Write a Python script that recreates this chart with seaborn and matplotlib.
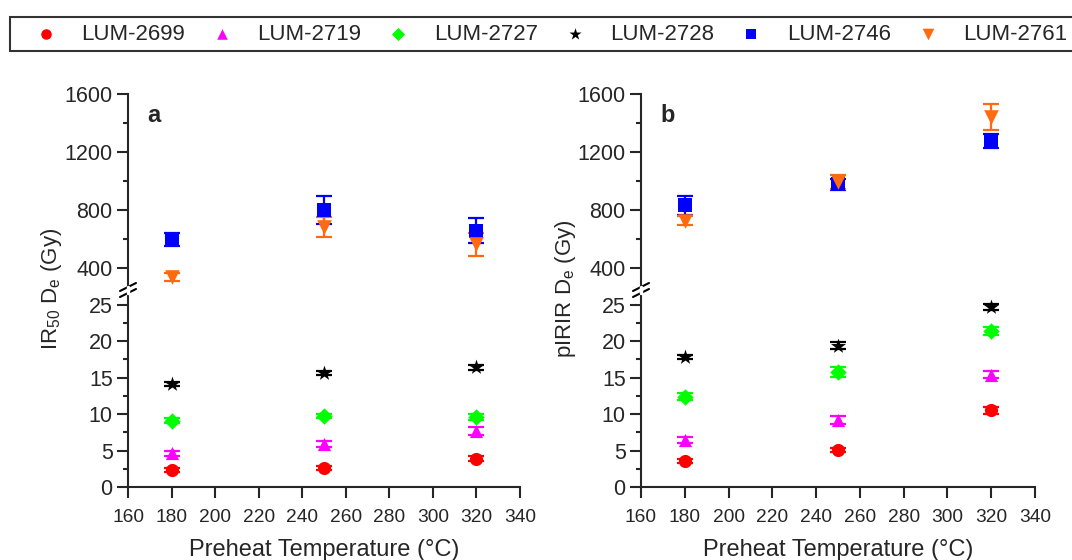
import numpy as np
import pandas as pd
import matplotlib
matplotlib.use("Agg")
import matplotlib.pyplot as plt
from matplotlib.lines import Line2D
from matplotlib.ticker import MultipleLocator, FixedLocator
import seaborn as sns

# ---------------- data ----------------
samples = ["LUM-2699", "LUM-2719", "LUM-2727", "LUM-2728", "LUM-2746", "LUM-2761"]
temps = [180, 250, 320]

# IR50 De (Gy) and errors
ir50_2699 = [2.3, 2.6, 3.9]
ir50_2719 = [4.6, 5.9, 7.7]
ir50_2727 = [9.1, 9.7, 9.6]
ir50_2728 = [14.1, 15.6, 16.4]
ir50_2746 = [595, 800, 655]
ir50_2761 = [337, 680, 562]
ir50_err_2699 = [0.3, 0.3, 0.3]
ir50_err_2719 = [0.4, 0.4, 0.5]
ir50_err_2727 = [0.3, 0.3, 0.4]
ir50_err_2728 = [0.3, 0.3, 0.3]
ir50_err_2746 = [45, 97, 85]
ir50_err_2761 = [27, 72, 80]

# pIRIR De (Gy) and errors
pirir_2699 = [3.6, 5.1, 10.5]
pirir_2719 = [6.5, 9.2, 15.4]
pirir_2727 = [12.4, 15.8, 21.4]
pirir_2728 = [17.8, 19.4, 24.7]
pirir_2746 = [830, 975, 1275]
pirir_2761 = [725, 990, 1440]
pirir_err_2699 = [0.3, 0.3, 0.5]
pirir_err_2719 = [0.4, 0.5, 0.5]
pirir_err_2727 = [0.5, 0.7, 0.6]
pirir_err_2728 = [0.3, 0.5, 0.4]
pirir_err_2746 = [65, 40, 50]
pirir_err_2761 = [32, 50, 92]

colors = {"LUM-2699": "#FF0000", "LUM-2719": "#FF00FF", "LUM-2727": "#00FF00",
          "LUM-2728": "#000000", "LUM-2746": "#0000FF", "LUM-2761": "#FF6A10"}
markers = {"LUM-2699": "o", "LUM-2719": "^", "LUM-2727": "D",
           "LUM-2728": "*", "LUM-2746": "s", "LUM-2761": "v"}
msizes = {"LUM-2699": 90, "LUM-2719": 90, "LUM-2727": 70,
          "LUM-2728": 130, "LUM-2746": 95, "LUM-2761": 110}

ir50_vals = [ir50_2699, ir50_2719, ir50_2727, ir50_2728, ir50_2746, ir50_2761]
ir50_errs = [ir50_err_2699, ir50_err_2719, ir50_err_2727, ir50_err_2728, ir50_err_2746, ir50_err_2761]
pirir_vals = [pirir_2699, pirir_2719, pirir_2727, pirir_2728, pirir_2746, pirir_2761]
pirir_errs = [pirir_err_2699, pirir_err_2719, pirir_err_2727, pirir_err_2728, pirir_err_2746, pirir_err_2761]

def make_df(vals, errs):
    rows = []
    for s, v, e in zip(samples, vals, errs):
        for t, vv, ee in zip(temps, v, e):
            rows.append({"Sample": s, "T": t, "De": vv, "err": ee})
    return pd.DataFrame(rows)

df_a = make_df(ir50_vals, ir50_errs)
df_b = make_df(pirir_vals, pirir_errs)

# ---------------- style ----------------
sns.set_theme(style="ticks")
plt.rcParams["font.family"] = ["Liberation Sans", "DejaVu Sans"]
plt.rcParams["axes.linewidth"] = 1.5
plt.rcParams["mathtext.fontset"] = "custom"
plt.rcParams["mathtext.rm"] = "Liberation Sans"
plt.rcParams["mathtext.it"] = "Liberation Sans"

W, H = 1072, 560
fig = plt.figure(figsize=(W / 100, H / 100), dpi=100)

def px(x0, y0, x1, y1):
    return [x0 / W, 1 - y1 / H, (x1 - x0) / W, (y1 - y0) / H]

panels = [
    (df_a, 128, 520, "a", r"IR$_{50}$ D$_{\rm e}$ (Gy)", 51),
    (df_b, 641, 1035, "b", r"pIRIR D$_{\rm e}$ (Gy)", 565),
]

handles_all = None
for df, x0, x1, letter, ylab, ylab_x in panels:
    ax_top = fig.add_axes(px(x0, 94, x1, 285))
    ax_bot = fig.add_axes(px(x0, 296, x1, 487))
    for ax in (ax_top, ax_bot):
        for s in samples:
            sub = df[df["Sample"] == s]
            ax.errorbar(sub["T"], sub["De"], yerr=sub["err"], fmt="none",
                        ecolor=colors[s], elinewidth=1.6, capsize=5.5, capthick=1.6, zorder=2)
        for s in samples:
            sub = df[df["Sample"] == s]
            sns.scatterplot(data=sub, x="T", y="De", color=colors[s], marker=markers[s],
                            s=msizes[s], linewidth=0, ax=ax, zorder=3, label=s, legend=True)
        ax.set_xlim(160, 340)
        ax.set_xlabel("")
        ax.set_ylabel("")
        sns.despine(ax=ax)
        ax.tick_params(axis="y", which="major", length=8, width=1.5, labelsize=15.5, pad=3)
        ax.tick_params(axis="y", which="minor", length=3.8, width=1.5)
        if handles_all is None:
            handles_all = ax.get_legend_handles_labels()
        if ax.get_legend() is not None:
            ax.get_legend().remove()

    ax_top.set_ylim(279, 1600)
    ax_top.yaxis.set_major_locator(FixedLocator([400, 800, 1200, 1600]))
    ax_top.yaxis.set_minor_locator(FixedLocator([600, 1000, 1400]))
    ax_top.spines["bottom"].set_visible(False)
    ax_top.tick_params(axis="x", which="both", bottom=False, labelbottom=False)

    ax_bot.set_ylim(0, 26.2)
    ax_bot.yaxis.set_major_locator(FixedLocator([0, 5, 10, 15, 20, 25]))
    ax_bot.yaxis.set_minor_locator(FixedLocator([2.5, 7.5, 12.5, 17.5, 22.5]))
    ax_bot.xaxis.set_major_locator(MultipleLocator(20))
    ax_bot.tick_params(axis="x", which="major", length=8, width=1.5, labelsize=13.8, pad=8)
    ax_bot.set_xlabel("Preheat Temperature (°C)", fontsize=17, labelpad=9)

    ax_top.text(0.05, 0.95, letter, transform=ax_top.transAxes, fontsize=17,
                fontweight="bold", va="top", ha="left")

    fig.text(ylab_x / W, 1 - 289 / H, ylab, rotation=90, fontsize=16,
             ha="center", va="center")

    # axis break marks
    for dy in (-3, 3):
        yb = 290 + dy
        fig.add_artist(Line2D([(x0 - 8) / W, (x0 + 8) / W],
                              [1 - (yb + 4) / H, 1 - (yb - 4) / H],
                              color="black", lw=1.5))
    fig.add_artist(Line2D([x0 / W, x0 / W], [1 - 293 / H, 1 - 287 / H],
                          color="white", lw=2.5))

h, l = handles_all
leg = fig.legend(h, l, loc="upper left", ncol=6, mode="expand",
                 bbox_to_anchor=(10 / W, 1 - 55 / H, 1064 / W, 38 / H),
                 frameon=True, fancybox=False, fontsize=16, borderaxespad=0,
                 handlelength=2.6, handletextpad=0.3, markerscale=0.8,
                 borderpad=0.3)
leg.get_frame().set_edgecolor("black")
leg.get_frame().set_linewidth(1.5)

fig.savefig("out.png", dpi=100)
